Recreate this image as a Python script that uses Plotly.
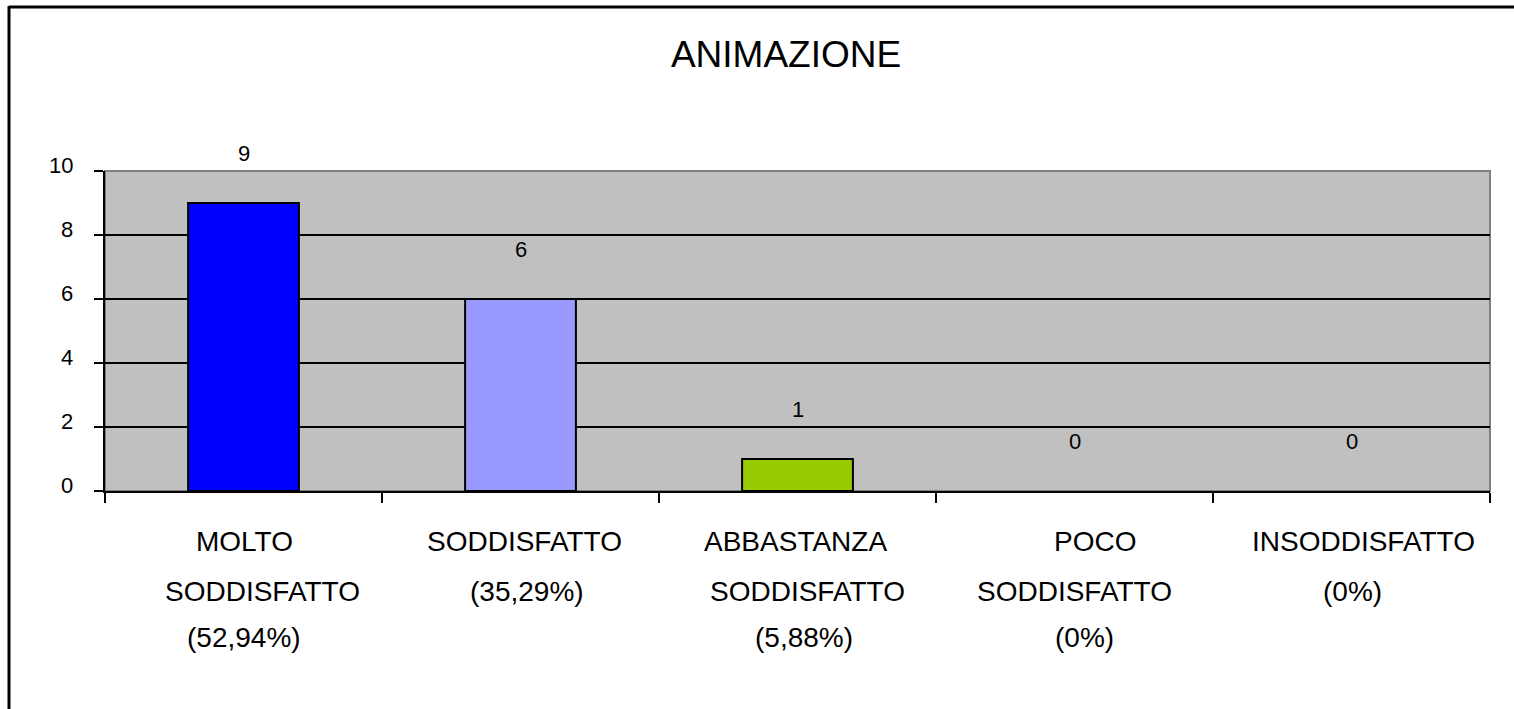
import plotly.graph_objects as go

title = "ANIMAZIONE"
categories = ["MOLTO SODDISFATTO", "SODDISFATTO", "ABBASTANZA SODDISFATTO",
              "POCO SODDISFATTO", "INSODDISFATTO"]
values = [9, 6, 1, 0, 0]
label_lines = [
    ["MOLTO", "SODDISFATTO", "(52,94%)"],
    ["SODDISFATTO", "(35,29%)"],
    ["ABBASTANZA", "SODDISFATTO", "(5,88%)"],
    ["POCO", "SODDISFATTO", "(0%)"],
    ["INSODDISFATTO", "(0%)"],
]
label_xshift = [
    [1, 19, 0],
    [4, 6],
    [-2, 10, 6],
    [20, 0, 10],
    [12, 1],
]
colors = ["#0000FF", "#9999FF", "#99CC00", "#9999FF", "#99CC00"]
yticks = [0, 2, 4, 6, 8, 10]

FONT = "Arial, Liberation Sans, sans-serif"
W, H = 1514, 709
L, R, T, B = 105, 24, 171, 218
pw, ph = W - L - R, H - T - B

xs = list(range(1, len(values) + 1))

fig = go.Figure()
fig.add_trace(go.Bar(
    x=xs, y=values, width=0.4,
    marker=dict(color=colors, line=dict(color="black",
                                        width=[2 if v > 0 else 0 for v in values])),
    hoverinfo="skip",
))

annotations = []
for x, v in zip(xs, values):
    annotations.append(dict(x=x, y=v, xref="x", yref="y", text=str(v),
                            showarrow=False, yshift=50, yanchor="middle",
                            font=dict(family=FONT, size=22, color="black")))
for t in yticks:
    annotations.append(dict(x=0, xref="paper", y=t, yref="y", text=str(t),
                            showarrow=False, xanchor="right", yanchor="middle",
                            xshift=-30, yshift=6,
                            font=dict(family=FONT, size=22, color="black")))
line_y_px = [541, 591, 637]
for x, lines, shifts in zip(xs, label_lines, label_xshift):
    for i, (t, s) in enumerate(zip(lines, shifts)):
        ypx = line_y_px[i]
        annotations.append(dict(x=x, xref="x", y=(H - B - ypx) / ph, yref="paper",
                                text=t, showarrow=False, xshift=s,
                                yanchor="middle",
                                font=dict(family=FONT, size=28, color="black")))

fig.update_layout(
    width=W, height=H,
    margin=dict(l=L, r=R, t=T, b=B),
    paper_bgcolor="white",
    plot_bgcolor="#C0C0C0",
    showlegend=False,
    title=dict(text=title, x=786 / W, xanchor="center",
               y=1 - 54 / H, yanchor="middle",
               font=dict(family=FONT, size=37, color="black")),
    xaxis=dict(range=[0.5, 5.5], tickvals=[0.5, 1.5, 2.5, 3.5, 4.5, 5.5],
               showticklabels=False, ticks="outside", ticklen=10, tickwidth=1.5,
               tickcolor="black", showgrid=False, zeroline=False,
               showline=True, linecolor="black", linewidth=2, fixedrange=True),
    yaxis=dict(range=[0, 10], tickvals=yticks, showticklabels=False,
               ticks="outside", ticklen=9, tickwidth=1.5, tickcolor="black",
               showgrid=True, gridcolor="black", gridwidth=1.5, zeroline=False,
               showline=True, linecolor="black", linewidth=2,
               fixedrange=True),
    annotations=annotations,
    shapes=[
        dict(type="rect", xref="paper", yref="paper", x0=0, x1=1, y0=0, y1=1,
             line=dict(color="#808080", width=2), layer="below"),
        dict(type="line", xref="paper", yref="paper",
             x0=(9 - L) / pw, x1=(1514 - L) / pw,
             y0=(H - B - 7) / ph, y1=(H - B - 7) / ph,
             line=dict(color="black", width=3)),
        dict(type="line", xref="paper", yref="paper",
             x0=(9 - L) / pw, x1=(9 - L) / pw,
             y0=(H - B - 709) / ph, y1=(H - B - 6) / ph,
             line=dict(color="black", width=3)),
    ],
)

fig.write_html("out.html", config={"displayModeBar": False},
               post_script="document.body.style.margin='0';")
